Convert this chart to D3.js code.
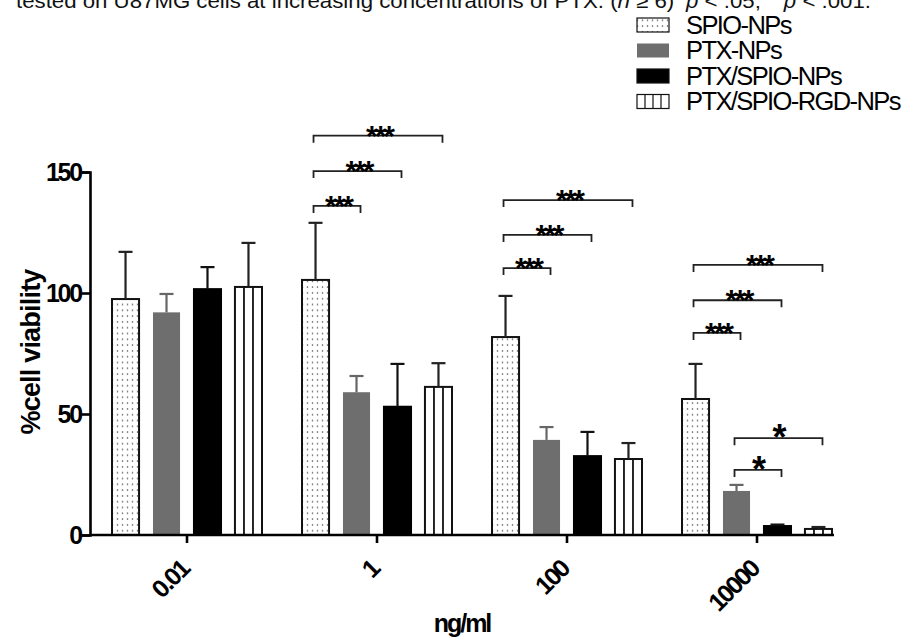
<!DOCTYPE html>
<html>
<head>
<meta charset="utf-8">
<script src="https://cdn.jsdelivr.net/npm/d3@7"></script>
<style>
  html, body { margin: 0; padding: 0; background: #fff; }
  svg { display: block; }
  text { font-family: "Liberation Sans", Arial, sans-serif; }
</style>
</head>
<body>
<svg id="chart" width="907" height="637"></svg>
<script>
// ---------- DATA ----------
const categories = ["0.01", "1", "100", "10000"];
const seriesNames = ["SPIO-NPs", "PTX-NPs", "PTX/SPIO-NPs", "PTX/SPIO-RGD-NPs"];
const spioValues     = [97.5, 105.4, 81.8, 56.2];
const spioErrors     = [19.5, 23.6, 17.0, 14.5];
const ptxValues      = [92.0, 59.0, 39.3, 18.2];
const ptxErrors      = [7.6, 6.7, 5.3, 2.5];
const ptxSpioValues  = [101.6, 53.0, 32.6, 3.7];
const ptxSpioErrors  = [9.1, 17.7, 10.0, 0.6];
const rgdValues      = [102.5, 61.2, 31.4, 2.5];
const rgdErrors      = [18.2, 9.8, 6.6, 0.8];
const yTicks = [0, 50, 100, 150];
const xTitle = "ng/ml";
const yTitle = "%cell viability";
// significance brackets: [category index, from series, to series, height (% units), label]
const brackets = [
  [1, 0, 1, 136, "***"], [1, 0, 2, 150.4, "***"], [1, 0, 3, 165, "***"],
  [2, 0, 1, 110.3, "***"], [2, 0, 2, 124, "***"], [2, 0, 3, 138.4, "***"],
  [3, 0, 1, 83.5, "***"], [3, 0, 2, 97, "***"], [3, 0, 3, 111.6, "***"],
  [3, 1, 2, 26.9, "*"], [3, 1, 3, 40, "*"]
];

// ---------- BUILD ----------
const allValues = [spioValues, ptxValues, ptxSpioValues, rgdValues];
const allErrors = [spioErrors, ptxErrors, ptxSpioErrors, rgdErrors];
const rows = [];
categories.forEach((c, ci) => seriesNames.forEach((s, si) => {
  rows.push({cat: c, ci, series: s, si, value: allValues[si][ci], err: allErrors[si][ci]});
}));

const svg = d3.select("#chart");
const defs = svg.append("defs");
const dots = defs.append("pattern").attr("id", "dots")
  .attr("patternUnits", "userSpaceOnUse").attr("width", 5).attr("height", 5.8);
dots.append("rect").attr("width", 5).attr("height", 5.8).attr("fill", "#fff");
dots.append("circle").attr("cx", 2.5).attr("cy", 2.9).attr("r", 0.8).attr("fill", "#444");

const fills = ["url(#dots)", "#6e6e6e", "#000000", "#ffffff"];
const strokes = ["#111", "none", "#000", "#111"];
const errColors = ["#222", "#666", "#111", "#222"];

const y = d3.scaleLinear().domain([0, 150]).range([535, 172]);
const x = d3.scaleBand().domain(categories).range([90, 854]).paddingInner(40 / 190).paddingOuter(22 / 190);
const xs = d3.scaleBand().domain(seriesNames).range([0, x.bandwidth()]).paddingInner(0.34).paddingOuter(0);

const cx = (ci, si) => x(categories[ci]) + xs(seriesNames[si]) + xs.bandwidth() / 2;

// Title (cropped caption at top)
const cap = svg.append("text").attr("x", 16).attr("y", 8)
  .attr("font-family", "'Open Sans', 'Noto Sans', sans-serif")
  .attr("font-size", 20).attr("fill", "#111")
  .attr("textLength", 855).attr("lengthAdjust", "spacingAndGlyphs");
cap.append("tspan").text("tested on U87MG cells at increasing concentrations of PTX. (");
cap.append("tspan").attr("font-style", "italic").text("n");
cap.append("tspan").text(" \u2265 6) ");
cap.append("tspan").attr("dy", -9).attr("font-size", 13).text("*");
cap.append("tspan").attr("dy", 9).attr("font-style", "italic").text("p");
cap.append("tspan").text(" < .05; ");
cap.append("tspan").attr("dy", -9).attr("font-size", 13).text("***");
cap.append("tspan").attr("dy", 9).attr("font-style", "italic").text("p");
cap.append("tspan").text(" < .001.");

// Bars
const g = svg.append("g");
g.selectAll("rect.bar").data(rows).join("rect").attr("class", "bar")
  .attr("x", d => x(d.cat) + xs(d.series))
  .attr("y", d => y(d.value))
  .attr("width", xs.bandwidth())
  .attr("height", d => y(0) - y(d.value))
  .attr("fill", d => fills[d.si])
  .attr("stroke", d => strokes[d.si])
  .attr("stroke-width", 2);

// vertical stripes for RGD bars
rows.filter(d => d.si === 3).forEach(d => {
  [1, 2].forEach(k => {
    const lx = x(d.cat) + xs(d.series) + xs.bandwidth() * k / 3;
    g.append("line").attr("x1", lx).attr("x2", lx)
      .attr("y1", y(d.value)).attr("y2", y(0))
      .attr("stroke", "#111").attr("stroke-width", 1.8);
  });
});

// Error bars (upper only)
const eg = svg.append("g");
rows.forEach(d => {
  const c = x(d.cat) + xs(d.series) + xs.bandwidth() / 2;
  eg.append("line").attr("x1", c).attr("x2", c)
    .attr("y1", y(d.value)).attr("y2", y(d.value + d.err))
    .attr("stroke", errColors[d.si]).attr("stroke-width", 2.2);
  eg.append("line").attr("x1", c - 7).attr("x2", c + 7)
    .attr("y1", y(d.value + d.err)).attr("y2", y(d.value + d.err))
    .attr("stroke", errColors[d.si]).attr("stroke-width", 2.2);
});

// Axes
const xAxis = svg.append("g").attr("transform", `translate(0,${y(0)})`)
  .call(d3.axisBottom(x).tickSize(8).tickSizeOuter(0));
xAxis.select(".domain").remove();
xAxis.append("line").attr("x1", 90).attr("x2", x(categories[3]) + x.bandwidth() + 2)
  .attr("y1", 0).attr("y2", 0).attr("stroke", "#000").attr("stroke-width", 2.6);
xAxis.selectAll(".tick line").attr("stroke", "#000").attr("stroke-width", 2.6);
xAxis.selectAll(".tick text")
  .attr("font-size", 25).attr("font-weight", "bold").attr("fill", "#000")
  .attr("letter-spacing", -2)
  .attr("text-anchor", "end")
  .attr("dy", 0)
  .attr("transform", "translate(-4,28) rotate(-45)");

const yAxis = svg.append("g").attr("transform", "translate(90,0)")
  .call(d3.axisLeft(y).tickValues(yTicks).tickSize(8).tickPadding(1));
yAxis.select(".domain").attr("stroke", "#000").attr("stroke-width", 2.6);
yAxis.selectAll(".tick line").attr("stroke", "#000").attr("stroke-width", 2.6);
yAxis.selectAll(".tick text").attr("font-size", 25).attr("font-weight", "bold")
  .attr("fill", "#000").attr("letter-spacing", -2.2);

// Axis titles
svg.append("text").attr("x", 462).attr("y", 632)
  .attr("text-anchor", "middle").attr("font-size", 25).attr("font-weight", "bold")
  .attr("letter-spacing", -2).text(xTitle);
svg.append("text").attr("transform", "translate(40,352) rotate(-90)")
  .attr("text-anchor", "middle").attr("font-size", 27).attr("font-weight", "bold")
  .attr("letter-spacing", -0.8).text(yTitle);

// Significance brackets
const bg = svg.append("g");
brackets.forEach(([ci, a, b, h, lab]) => {
  const x1 = cx(ci, a) - 2, x2 = cx(ci, b) + 4, yy = y(h);
  bg.append("path")
    .attr("d", `M${x1},${yy + 7}V${yy}H${x2}V${yy + 7}`)
    .attr("fill", "none").attr("stroke", "#222").attr("stroke-width", 1.8);
  const multi = lab.length > 1;
  bg.append("text").attr("x", (x1 + x2) / 2 + 1).attr("y", yy + (multi ? 10 : 12))
    .attr("text-anchor", "middle").attr("font-size", multi ? 30 : 36)
    .attr("font-weight", "bold").attr("letter-spacing", multi ? -3 : 0).text(lab);
});

// Legend
const lg = svg.append("g");
seriesNames.forEach((s, si) => {
  const ly = 25 + si * 25.5;
  lg.append("rect").attr("x", 637).attr("y", ly - 7).attr("width", 32).attr("height", 14)
    .attr("fill", fills[si]).attr("stroke", si === 1 ? "none" : "#111").attr("stroke-width", 1.2);
  if (si === 3) {
    [1, 2, 3].forEach(k => {
      lg.append("line").attr("x1", 637 + 8 * k).attr("x2", 637 + 8 * k)
        .attr("y1", ly - 7).attr("y2", ly + 7).attr("stroke", "#111").attr("stroke-width", 1.2);
    });
  }
  lg.append("text").attr("x", 686).attr("y", ly + 8.5).attr("font-size", 25.5)
    .attr("letter-spacing", -1.6).attr("fill", "#000").text(s);
});
</script>
</body>
</html>
